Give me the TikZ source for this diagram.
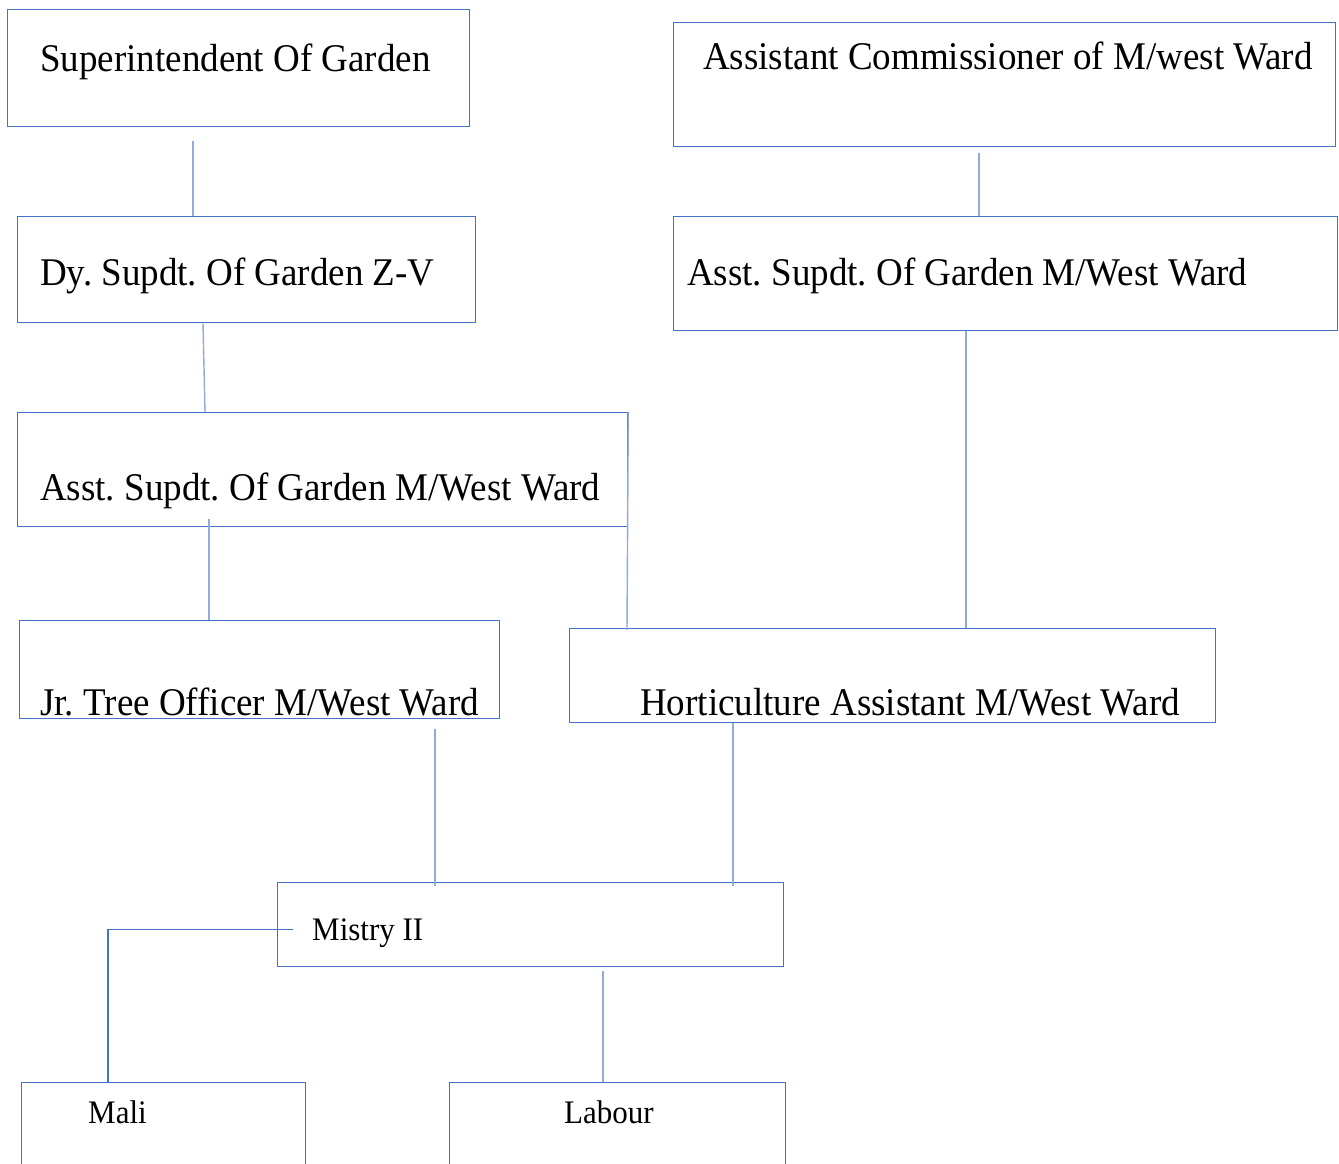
\documentclass[tikz,border=0pt]{standalone}
\usepackage{fontspec}
\setmainfont{Liberation Serif}
\usetikzlibrary{calc}
\definecolor{boxblue}{HTML}{4472C4}
\definecolor{linkblue}{HTML}{8FAADC}
\newcommand{\tallt}[1]{\scalebox{1}[1.06]{#1}}
\tikzset{
  orgbox/.style={draw=boxblue, line width=1.3pt, rectangle, inner sep=0pt, anchor=north west},
  bigtxt/.style={inner sep=0pt, anchor=base west, font=\fontsize{37}{40}\selectfont\frenchspacing},
  smalltxt/.style={inner sep=0pt, anchor=base west, font=\fontsize{31}{34}\selectfont\frenchspacing},
  link/.style={draw=linkblue, line width=1.4pt},
  darklink/.style={draw=boxblue, line width=1.3pt}
}
\begin{document}
\begin{tikzpicture}[x=1pt, y=-1pt]
\useasboundingbox (0,0) rectangle (1339,1164);
\clip (0,0) rectangle (1339,1164);
% boxes
\node[orgbox, minimum width=462pt, minimum height=117pt] (b1) at (7,9) {};
\node[orgbox, minimum width=662pt, minimum height=124pt] (b2) at (673,22) {};
\node[orgbox, minimum width=458pt, minimum height=106pt] (b3) at (17,216) {};
\node[orgbox, minimum width=664pt, minimum height=114pt] (b4) at (673,216) {};
\node[orgbox, minimum width=610pt, minimum height=114pt] (b5) at (17,412) {};
\node[orgbox, minimum width=480pt, minimum height=98pt] (b6) at (19,620) {};
\node[orgbox, minimum width=646pt, minimum height=94pt] (b7) at (569,628) {};
\node[orgbox, minimum width=506pt, minimum height=84pt] (b8) at (277,882) {};
\node[orgbox, minimum width=284pt, minimum height=100pt] (b9) at (21,1082) {};
\node[orgbox, minimum width=336pt, minimum height=100pt] (b10) at (449,1082) {};
% texts
\node[bigtxt] (t1) at (40,71) {\tallt{Superintendent Of Garden}};
\node[bigtxt] (t2) at (703,70) {\tallt{Assistant Commissioner of M/west Ward}};
\node[bigtxt] (t3) at (40,285) {\tallt{Dy. Supdt. Of Garden Z-V}};
\node[bigtxt] (t4) at (687,285) {\tallt{Asst. Supdt. Of Garden M/West Ward}};
\node[bigtxt] (t5) at (40,500) {\tallt{Asst. Supdt. Of Garden M/West Ward}};
\node[bigtxt] (t6) at (40,715) {\tallt{Jr. Tree Officer M/West Ward}};
\node[bigtxt] (t7) at (640,715) {\tallt{Horticulture Assistant M/West Ward}};
\node[smalltxt] (t8) at (312,940) {\tallt{Mistry II}};
\node[smalltxt] (t9) at (88,1123) {\tallt{Mali}};
\node[smalltxt] (t10) at (564,1123) {\tallt{Labour}};
% connectors
\draw[link] ($(b1.south west)+(186,14)$) -- ($(b3.north west)+(176,0)$);
\draw[link] ($(b2.south west)+(306,6)$) -- ($(b4.north west)+(306,0)$);
\draw[link] ($(b3.south west)+(186,0)$) -- ($(b5.north west)+(188,0)$);
\draw[link] ($(b4.south west)+(293,0)$) -- ($(b7.north west)+(397,0)$);
\draw[link] ($(b5.south west)+(192,-8)$) -- ($(b6.north west)+(190,0)$);
\draw[link] (b5.north east) -- ($(b7.north west)+(58,2)$);
\draw[link] ($(b6.south west)+(416,10)$) -- ($(b8.north west)+(158,4)$);
\draw[link] ($(b7.south west)+(164,0)$) -- ($(b8.north west)+(456,4)$);
\draw[link] ($(b8.south west)+(326,4)$) -- ($(b10.north west)+(154,0)$);
\draw[darklink] ($(b8.west)+(16,5)$) -| ($(b9.north west)+(87,0)$);
\end{tikzpicture}
\end{document}
